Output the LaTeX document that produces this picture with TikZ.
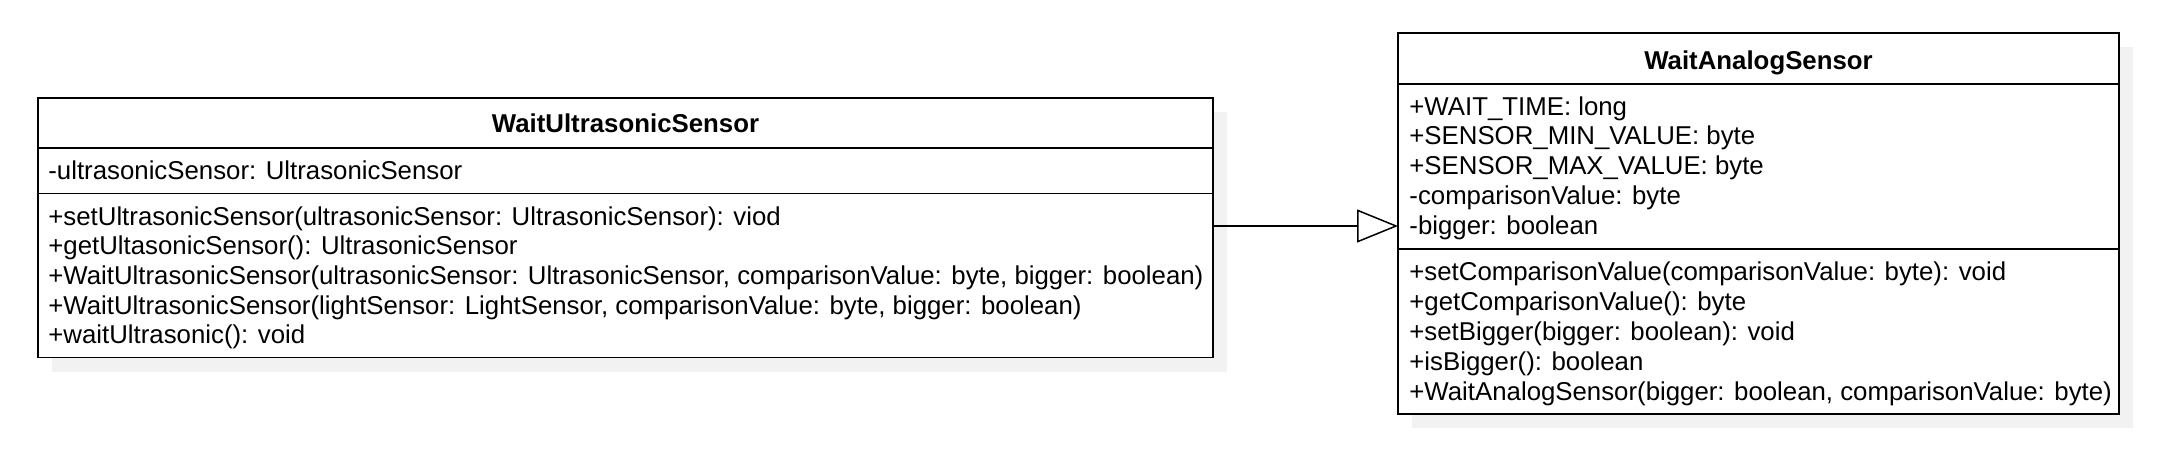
\documentclass[tikz,border=0pt]{standalone}
\usepackage{fontspec}
\setmainfont{Liberation Sans}
\usetikzlibrary{arrows.meta}
\definecolor{shadowgray}{HTML}{F2F2F2}
\begin{document}
\begin{tikzpicture}[x=0.5pt,y=-0.5pt,
  box/.style={draw=black, line width=0.95pt, fill=white, inner sep=0pt, outer sep=0pt, anchor=north west},
  divider/.style={line width=0.95pt},
  txt/.style={anchor=base west, inner sep=0pt, font=\fontsize{12.9}{15.5}\selectfont},
  ttl/.style={anchor=base, inner sep=0pt, font=\fontsize{12.9}{15.5}\selectfont\bfseries},
  inherit/.style={line width=0.75pt, -{Triangle[open, length=20.5pt, width=16.5pt]}}
]
\useasboundingbox (0,0) rectangle (2184,452);
% shadows
\fill[shadowgray] (52,112) rectangle (1227,371.5);
\fill[shadowgray] (1412,47.3) rectangle (2133,428);
% left class
\node[box, minimum width=587.5pt, minimum height=129.75pt] (wus) at (38,98) {};
\draw[divider] (38,148) -- (1213,148);
\draw[divider] (38,193.5) -- (1213,193.5);
\node[ttl] (wust) at (625.5,132) {WaitUltrasonicSensor};
\node[txt] (wusa1) at (48,179) {-ultrasonicSensor: UltrasonicSensor};
\node[txt] (wusm1) at (48,225) {+setUltrasonicSensor(ultrasonicSensor: UltrasonicSensor): viod};
\node[txt] (wusm2) at (48,254.7) {+getUltasonicSensor(): UltrasonicSensor};
\node[txt] (wusm3) at (48,284.4) {+WaitUltrasonicSensor(ultrasonicSensor: UltrasonicSensor, comparisonValue: byte, bigger: boolean)};
\node[txt] (wusm4) at (48,314.1) {+WaitUltrasonicSensor(lightSensor: LightSensor, comparisonValue: byte, bigger: boolean)};
\node[txt] (wusm5) at (48,343.8) {+waitUltrasonic(): void};
% right class
\node[box, minimum width=360.5pt, minimum height=190.35pt] (was) at (1398,33.3) {};
\draw[divider] (1398,83.7) -- (2119,83.7);
\draw[divider] (1398,249.3) -- (2119,249.3);
\node[ttl] (wast) at (1758.5,69) {WaitAnalogSensor};
\node[txt] (wasa1) at (1409,115) {+WAIT\_TIME: long};
\node[txt] (wasa2) at (1409,144.8) {+SENSOR\_MIN\_VALUE: byte};
\node[txt] (wasa3) at (1409,174.6) {+SENSOR\_MAX\_VALUE: byte};
\node[txt] (wasa4) at (1409,204.4) {-comparisonValue: byte};
\node[txt] (wasa5) at (1409,234.2) {-bigger: boolean};
\node[txt] (wasm1) at (1409,280.7) {+setComparisonValue(comparisonValue: byte): void};
\node[txt] (wasm2) at (1409,310.7) {+getComparisonValue(): byte};
\node[txt] (wasm3) at (1409,340.7) {+setBigger(bigger: boolean): void};
\node[txt] (wasm4) at (1409,370.7) {+isBigger(): boolean};
\node[txt] (wasm5) at (1409,400.7) {+WaitAnalogSensor(bigger: boolean, comparisonValue: byte)};
% inheritance
\draw[inherit] ([yshift=0.875pt]wus.east) -- ([yshift=0.875pt]wus.east -| was.west);
\end{tikzpicture}
\end{document}
